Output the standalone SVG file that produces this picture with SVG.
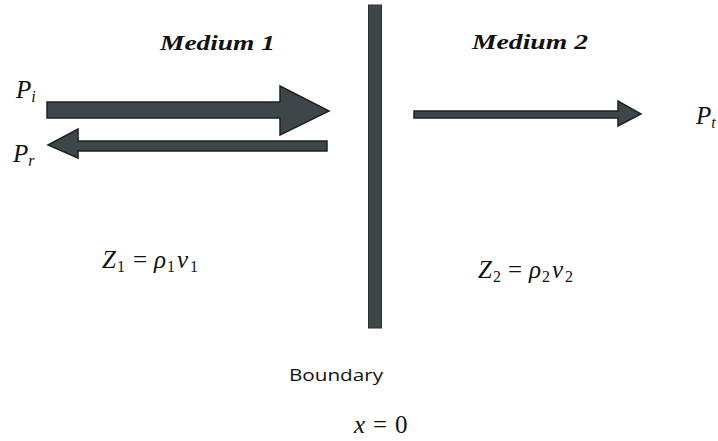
<svg xmlns="http://www.w3.org/2000/svg" width="718" height="441" viewBox="0 0 718 441">
<style>
.arrow{fill:#3d4749;stroke:#1e2324;stroke-width:1.5;stroke-linejoin:miter}
.bar{fill:#3d4749;stroke:#2a3032;stroke-width:1}
.med{font-family:"Liberation Serif","DejaVu Serif",serif;font-style:italic;font-weight:bold;font-size:21px;fill:#111}
.math{font-family:"Liberation Serif","DejaVu Serif",serif;font-style:italic;font-size:25px;fill:#111}
.up{font-style:normal}
.sub{font-style:normal;font-size:16px}
.sans{font-family:"Open Sans","Liberation Sans",sans-serif;font-size:16px;fill:#111}
</style>
<rect width="718" height="441" fill="#fff"/>
<g id="boundary">
<rect class="bar" x="368.5" y="5" width="13" height="323"/>
<text class="sans" x="289" y="381" textLength="94" lengthAdjust="spacingAndGlyphs">Boundary</text>
<text class="math" y="433"><tspan x="354">x</tspan><tspan class="up" x="373">=</tspan><tspan class="up" x="395">0</tspan></text>
</g>
<g id="medium1">
<text class="med" x="160" y="50" textLength="115" lengthAdjust="spacingAndGlyphs">Medium 1</text>
<text class="math" y="268"><tspan x="102">Z</tspan><tspan class="sub" x="117" dy="4">1</tspan><tspan class="up" x="133" dy="-4">=</tspan><tspan x="154">ρ</tspan><tspan class="sub" x="167" dy="4">1</tspan><tspan x="177" dy="-4">v</tspan><tspan class="sub" x="190" dy="4">1</tspan></text>
</g>
<g id="medium2">
<text class="med" x="472" y="49" textLength="116" lengthAdjust="spacingAndGlyphs">Medium 2</text>
<text class="math" y="278"><tspan x="478">Z</tspan><tspan class="sub" x="493" dy="4">2</tspan><tspan class="up" x="508" dy="-4">=</tspan><tspan x="529">ρ</tspan><tspan class="sub" x="542" dy="4">2</tspan><tspan x="552" dy="-4">v</tspan><tspan class="sub" x="565" dy="4">2</tspan></text>
</g>
<g id="label-pi"><text class="math" x="16" y="98" font-size="22">P<tspan font-size="16" dy="4">i</tspan></text></g>
<g id="label-pr"><text class="math" x="13" y="162" font-size="22">P<tspan font-size="16" dy="4">r</tspan></text></g>
<g id="label-pt"><text class="math" x="696" y="124" font-size="22">P<tspan font-size="16" dy="4">t</tspan></text></g>
<g id="connectors">
<polygon class="arrow" points="47,102 280,102 280,86 329,111 280,135 280,118 47,118"/>
<polygon class="arrow" points="327,141 78,141 78,129 48,145 78,158 78,151 327,151"/>
<polygon class="arrow" points="414,111 618,111 618,101 641,114 618,126 618,118 414,118"/>
</g>
</svg>
